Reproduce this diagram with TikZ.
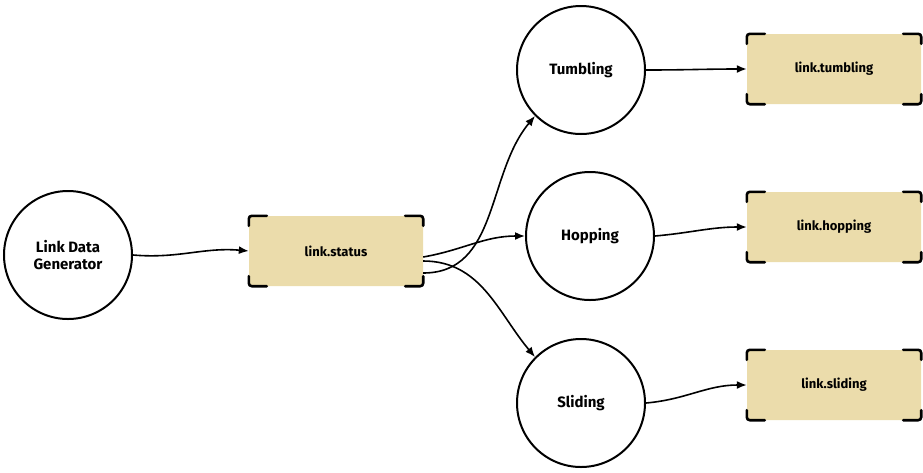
\documentclass[tikz,border=0pt]{standalone}
\usepackage{fontspec}
\setmainfont{Fira Sans}
\usetikzlibrary{arrows.meta}
\definecolor{tan}{HTML}{EBDCAB}
\tikzset{
 circ/.style={circle,draw,line width=2pt,minimum size=128pt,inner sep=0pt,font=\bfseries\fontsize{15}{17}\selectfont,align=center},
 tbox/.style={rectangle,rounded corners=4pt,fill=tan,minimum width=174pt,minimum height=70pt,font=\bfseries\fontsize{13}{15}\selectfont},
 conn/.style={line width=1.6pt,-{Latex[length=10pt,width=8pt]}},
 brk/.style={line width=2.6pt,line cap=round,rounded corners=3pt}
}
\newcommand{\brackets}[1]{%
 \draw[brk] ([xshift=18pt]#1.north west) -- (#1.north west) -- ([yshift=-10pt]#1.north west);
 \draw[brk] ([xshift=-18pt]#1.north east) -- (#1.north east) -- ([yshift=-10pt]#1.north east);
 \draw[brk] ([xshift=18pt]#1.south west) -- (#1.south west) -- ([yshift=10pt]#1.south west);
 \draw[brk] ([xshift=-18pt]#1.south east) -- (#1.south east) -- ([yshift=10pt]#1.south east);}
\begin{document}
\begin{tikzpicture}[x=1pt,y=-1pt]
\useasboundingbox (0,0) rectangle (923,472);
\node[circ] (gen) at (68,255) {Link Data\\Generator};
\node[circ] (tum) at (581,70) {Tumbling};
\node[circ] (hop) at (590,236) {Hopping};
\node[circ] (sli) at (581,403) {Sliding};
\node[tbox] (st) at (336,251) {link.status};
\node[tbox] (bt) at (834,69) {link.tumbling};
\node[tbox] (bh) at (834,227) {link.hopping};
\node[tbox] (bs) at (834,385) {link.sliding};
\brackets{st}\brackets{bt}\brackets{bh}\brackets{bs}
\draw[conn] (gen.east) to[out=-5,in=175] (st.west);
\draw[conn] ([yshift=-22pt]st.east) to[out=0,in=230] (tum.south west);
\draw[conn] ([yshift=-6pt]st.east) to[out=10,in=180] (hop.west);
\draw[conn] ([yshift=-10pt]st.east) to[out=0,in=130] (sli.north west);
\draw[conn] (tum.east) to[out=0,in=180] (bt.west);
\draw[conn] (hop.east) to[out=5,in=180] (bh.west);
\draw[conn] (sli.east) to[out=5,in=180] (bs.west);
\end{tikzpicture}
\end{document}
